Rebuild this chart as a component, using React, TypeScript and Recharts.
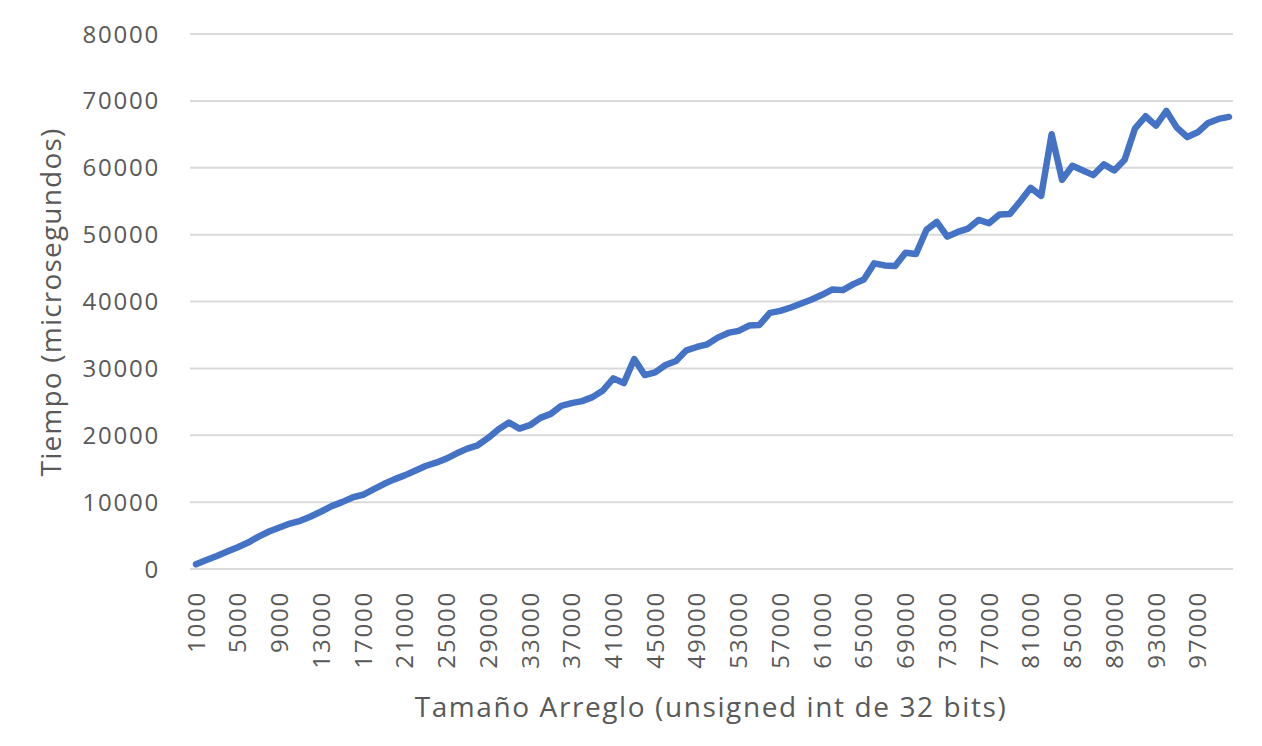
import { LineChart, Line, XAxis, YAxis, CartesianGrid } from "recharts";

const sizes = Array.from({ length: 100 }, (_, i) => String((i + 1) * 1000));

// tiempos (microsegundos)
const tiempos = [
  700, 1350, 1950, 2600, 3250, 3950, 4850, 5600, 6200, 6800,
  7200, 7850, 8600, 9400, 10000, 10700, 11100, 11900, 12700, 13400,
  14000, 14700, 15400, 15900, 16500, 17300, 18000, 18500, 19600, 20900,
  21900, 21000, 21500, 22600, 23200, 24400, 24800, 25100, 25700, 26700,
  28500, 27800, 31400, 29000, 29400, 30500, 31100, 32700, 33200, 33600,
  34600, 35300, 35600, 36400, 36500, 38300, 38600, 39100, 39700, 40300,
  41000, 41800, 41700, 42600, 43300, 45700, 45400, 45300, 47300, 47100,
  50700, 51900, 49700, 50400, 50900, 52200, 51700, 53000, 53100, 55000,
  57000, 55800, 65000, 58200, 60300, 59600, 58900, 60500, 59600, 61200,
  65900, 67700, 66300, 68500, 66000, 64600, 65300, 66700, 67300, 67600,
];

const yTicks = [0, 10000, 20000, 30000, 40000, 50000, 60000, 70000, 80000];

const data = sizes.map((s, i) => ({ size: s, tiempo: tiempos[i] }));

const FONT = "'Open Sans', 'Segoe UI', sans-serif";
const GREY = "#595959";

function XTick(props: any) {
  const { x, y, payload } = props;
  const ty = y + 14;
  return (
    <text
      x={x}
      y={ty}
      transform={`rotate(-90 ${x} ${ty})`}
      textAnchor="end"
      dy="0.36em"
      fill={GREY}
      fontSize={24}
      letterSpacing={1.8}
      fontFamily={FONT}
    >
      {payload.value}
    </text>
  );
}

export default function App() {
  return (
    <LineChart
      width={1254}
      height={738}
      data={data}
      margin={{ top: 26, right: 29, left: 0, bottom: 0 }}
    >
      <CartesianGrid vertical={false} stroke="#d9d9d9" strokeWidth={2} />
      <XAxis
        dataKey="size"
        interval={3}
        height={177}
        padding={{ left: 6, right: 4 }}
        axisLine={{ stroke: "#d9d9d9", strokeWidth: 2 }}
        tickLine={false}
        tick={<XTick />}
        label={{
          content: () => (
            <text
              x={703}
              y={698}
              textAnchor="middle"
              dominantBaseline="central"
              fill={GREY}
              fontSize={28}
              letterSpacing={1.6}
              fontFamily={FONT}
            >
              Tamaño Arreglo (unsigned int de 32 bits)
            </text>
          ),
        }}
      />
      <YAxis
        width={182}
        domain={[0, 80000]}
        ticks={yTicks}
        axisLine={false}
        tickLine={false}
        tickMargin={24}
        tick={{ fill: GREY, fontSize: 24, fontFamily: FONT, letterSpacing: 1.8 }}
        label={{
          content: () => (
            <text
              x={42}
              y={294}
              transform="rotate(-90 42 294)"
              textAnchor="middle"
              dominantBaseline="central"
              fill={GREY}
              fontSize={28}
              letterSpacing={1.2}
              fontFamily={FONT}
            >
              Tiempo (microsegundos)
            </text>
          ),
        }}
      />
      <Line
        type="linear"
        dataKey="tiempo"
        stroke="#4472C4"
        strokeWidth={6.5}
        strokeLinejoin="round"
        strokeLinecap="round"
        dot={false}
        activeDot={false}
        isAnimationActive={false}
      />
    </LineChart>
  );
}
